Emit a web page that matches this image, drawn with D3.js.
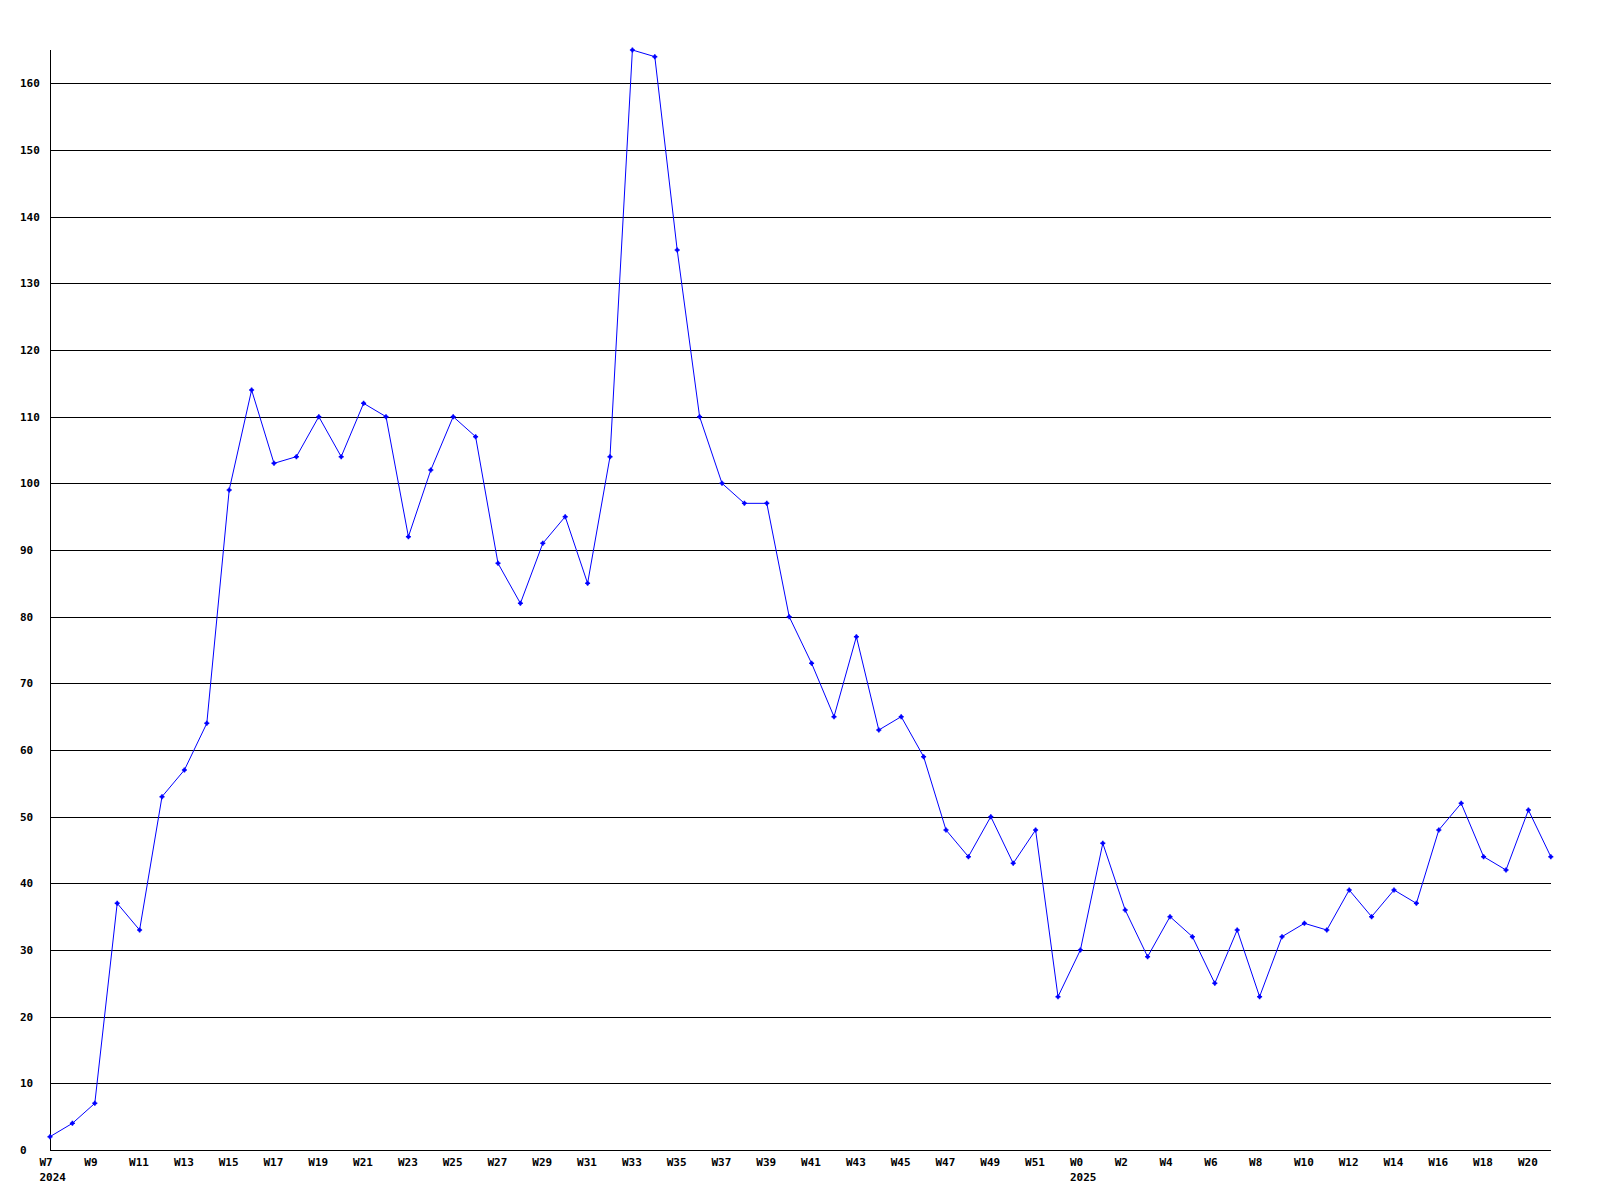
<!DOCTYPE html>
<html>
<head>
<meta charset="utf-8">
<script src="https://cdn.jsdelivr.net/npm/d3@7"></script>
<style>
  html, body { margin: 0; padding: 0; background: #fff; }
  svg { display: block; }
  text { font-family: "DejaVu Sans Mono", "Liberation Mono", monospace; font-weight: bold; font-size: 11px; fill: #000; }
</style>
</head>
<body>
<svg id="chart" width="1600" height="1200"></svg>
<script>
// Week labels (one per point)
const weeks = [
  "2024-W7","2024-W8","2024-W9","2024-W10","2024-W11","2024-W12","2024-W13","2024-W14","2024-W15","2024-W16",
  "2024-W17","2024-W18","2024-W19","2024-W20","2024-W21","2024-W22","2024-W23","2024-W24","2024-W25","2024-W26",
  "2024-W27","2024-W28","2024-W29","2024-W30","2024-W31","2024-W32","2024-W33","2024-W34","2024-W35","2024-W36",
  "2024-W37","2024-W38","2024-W39","2024-W40","2024-W41","2024-W42","2024-W43","2024-W44","2024-W45","2024-W46",
  "2024-W47","2024-W48","2024-W49","2024-W50","2024-W51","2024-W52",
  "2025-W0","2025-W1","2025-W2","2025-W3","2025-W4","2025-W5","2025-W6","2025-W7","2025-W8","2025-W9",
  "2025-W10","2025-W11","2025-W12","2025-W13","2025-W14","2025-W15","2025-W16","2025-W17","2025-W18","2025-W19",
  "2025-W20","2025-W21"
];
const values = [
  2, 4, 7, 37, 33, 53, 57, 64, 99, 114,
  103, 104, 110, 104, 112, 110, 92, 102, 110, 107,
  88, 82, 91, 95, 85, 104, 165, 164, 135, 110,
  100, 97, 97, 80, 73, 65, 77, 63, 65, 59,
  48, 44, 50, 43, 48, 23,
  30, 46, 36, 29, 35, 32, 25, 33, 23, 32,
  34, 33, 39, 35, 39, 37, 48, 52, 44, 42,
  51, 44
];
const yTicks = [0, 10, 20, 30, 40, 50, 60, 70, 80, 90, 100, 110, 120, 130, 140, 150, 160];
const xTickWeeks = weeks.filter((w, i) => i % 2 === 0 && w !== "2024-W51" || w === "2024-W51" || w === "2025-W0")
  .filter(w => { const n = +w.split("-W")[1]; return n % 2 === (w.startsWith("2024") ? 1 : 0); });
const yearLabels = [["2024-W7", "2024"], ["2025-W0", "2025"]];

const svg = d3.select("#chart");
const x = d3.scalePoint().domain(weeks).range([50, 1550.8]);
const y = d3.scaleLinear().domain([0, 165]).range([1150, 50]);
const xRight = 1551;

// gridlines
svg.append("g").selectAll("line").data(yTicks.filter(t => t > 0)).join("line")
  .attr("x1", 50).attr("x2", xRight)
  .attr("y1", d => Math.round(y(d)) + 0.5).attr("y2", d => Math.round(y(d)) + 0.5)
  .attr("stroke", "#000").attr("stroke-width", 1).attr("shape-rendering", "crispEdges");

// axes lines
svg.append("line").attr("x1", 50.5).attr("x2", 50.5).attr("y1", y(165)).attr("y2", 1150.5)
  .attr("stroke", "#000").attr("shape-rendering", "crispEdges");
svg.append("line").attr("x1", 50).attr("x2", xRight).attr("y1", 1150.5).attr("y2", 1150.5)
  .attr("stroke", "#000").attr("shape-rendering", "crispEdges");

// y labels
svg.append("g").selectAll("text").data(yTicks).join("text")
  .attr("x", 20).attr("y", d => y(d)).attr("dy", "0.35em")
  .text(d => d);

// x labels
svg.append("g").selectAll("text").data(xTickWeeks).join("text")
  .attr("x", d => x(d) - 10.5).attr("y", 1162).attr("dy", "0.35em")
  .text(d => "W" + d.split("-W")[1]);
svg.append("g").selectAll("text").data(yearLabels).join("text")
  .attr("x", d => x(d[0]) - 10.5).attr("y", 1177.5).attr("dy", "0.35em")
  .text(d => d[1]);

// line
const data = weeks.map((w, i) => ({ w, v: values[i] }));
svg.append("path").datum(data)
  .attr("fill", "none").attr("stroke", "#0000ff").attr("stroke-width", 1)
  .attr("d", d3.line().x(d => x(d.w)).y(d => y(d.v)));

// markers
svg.append("g").selectAll("path").data(data).join("path")
  .attr("transform", d => `translate(${x(d.w)},${y(d.v)})`)
  .attr("d", "M-2.5,-0.75H2.5V0.75H-2.5Z M-0.75,-2.5H0.75V2.5H-0.75Z M-1.5,-1.5H1.5V1.5H-1.5Z")
  .attr("fill", "#0000ff");
</script>
</body>
</html>
